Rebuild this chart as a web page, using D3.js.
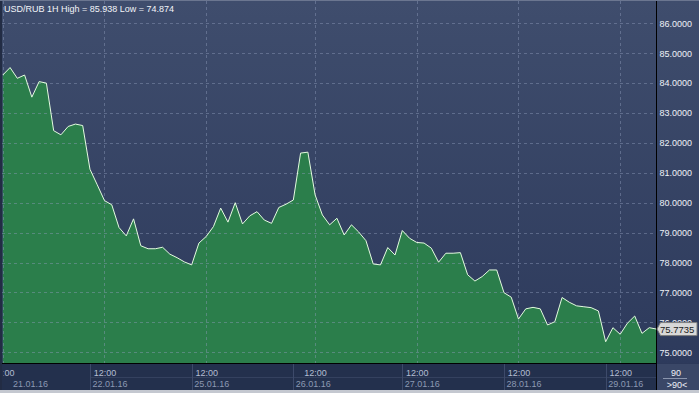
<!DOCTYPE html>
<html>
<head>
<meta charset="utf-8">
<script src="https://cdn.jsdelivr.net/npm/d3@7/dist/d3.min.js"></script>
<style>
  html, body { margin: 0; padding: 0; background: #2c3858; }
  svg { display: block; font-family: "Liberation Sans", Arial, sans-serif; }
</style>
</head>
<body>
<div id="chart"></div>
<script>
// hourly closes, bar 0 = 21.01 12:00, bar 90 = last bar on 29.01
var closes = [
  84.27, 84.52, 84.16, 84.27, 83.53, 84.05, 84.00, 82.41, 82.27, 82.55,
  82.63, 82.58, 81.12, 80.60, 80.07, 79.93, 79.17, 78.89, 79.46, 78.56,
  78.46, 78.46, 78.51, 78.28, 78.16, 78.02, 77.92, 78.65, 78.87, 79.20,
  79.82, 79.35, 80.00, 79.29, 79.56, 79.70, 79.42, 79.31, 79.84, 79.95,
  80.09, 81.66, 81.69, 80.26, 79.59, 79.26, 79.48, 78.92, 79.26, 79.02,
  78.73, 77.95, 77.92, 78.50, 78.25, 79.07, 78.81, 78.67, 78.65, 78.48,
  78.01, 78.31, 78.31, 78.33, 77.59, 77.38, 77.53, 77.75, 77.75, 76.99,
  76.84, 76.11, 76.45, 76.50, 76.45, 75.91, 76.02, 76.83, 76.67, 76.55,
  76.52, 76.49, 76.38, 75.35, 75.82, 75.60, 75.97, 76.21, 75.63, 75.82,
  75.7735
];
var priceTicks = [75, 76, 77, 78, 79, 80, 81, 82, 83, 84, 85, 86];
var tickBars = [0, 14, 28, 43, 57, 71, 85];
var tickTimes = ["12:00", "12:00", "12:00", "12:00", "12:00", "12:00", "12:00"];
var dayStartBars = [-2, 12, 26, 40, 55, 69, 83];
var dayLabels = ["21.01.16", "22.01.16", "25.01.16", "26.01.16", "27.01.16", "28.01.16", "29.01.16"];
var title = "USD/RUB 1H High = 85.938 Low = 74.874";
var lastPrice = "75.7735";
var barCount = "90";

var W = 699, H = 393;
var plotL = 2, plotR = 656.5, plotT = 1, plotB = 363.5, axisB = 390;

var svg = d3.select("#chart").append("svg")
  .attr("width", W)
  .attr("height", H);

var defs = svg.append("defs");
var grad = defs.append("linearGradient")
  .attr("id", "bg").attr("x1", 0).attr("y1", 0).attr("x2", 0).attr("y2", 1);
grad.append("stop").attr("offset", "0%").attr("stop-color", "#3f4d6d");
grad.append("stop").attr("offset", "100%").attr("stop-color", "#2d3a5c");
defs.append("clipPath").attr("id", "plotclip")
  .append("rect").attr("x", plotL).attr("y", plotT)
  .attr("width", plotR - plotL).attr("height", plotB - plotT);
// clip for the time row, in the axis group's own coordinates
defs.append("clipPath").attr("id", "xclip")
  .append("rect").attr("x", 3.5).attr("y", 0)
  .attr("width", plotR - 3.5).attr("height", 30);

var x = d3.scaleLinear().domain([0, 90]).range([2.8, 656.5]);
var y = d3.scaleLinear().domain([75, 86]).range([352.2, 23.3]);

// backgrounds
svg.append("rect").attr("width", W).attr("height", H).attr("fill", "#2c3858");
svg.append("rect").attr("x", 0).attr("y", 0).attr("width", W).attr("height", plotB)
  .attr("fill", "url(#bg)");

var plot = svg.append("g").attr("clip-path", "url(#plotclip)");

var area = d3.area()
  .x(function(d, i) { return x(i); })
  .y0(plotB)
  .y1(function(d) { return y(d); });

var line = d3.line()
  .x(function(d, i) { return x(i); })
  .y(function(d) { return y(d); });

plot.append("path")
  .datum(closes)
  .attr("d", area)
  .attr("fill", "#2b7e4b");

// grid
plot.selectAll(".hgrid").data(priceTicks).enter().append("line")
  .attr("x1", plotL).attr("x2", plotR)
  .attr("y1", function(d) { return Math.round(y(d)) + 0.5; })
  .attr("y2", function(d) { return Math.round(y(d)) + 0.5; })
  .attr("stroke", "#8d9bbb").attr("stroke-opacity", 0.45)
  .attr("stroke-dasharray", "3,3");

plot.selectAll(".vgrid").data(tickBars).enter().append("line")
  .attr("x1", function(d) { return Math.round(x(d)) + 0.5; })
  .attr("x2", function(d) { return Math.round(x(d)) + 0.5; })
  .attr("y1", plotT).attr("y2", plotB)
  .attr("stroke", "#8d9bbb").attr("stroke-opacity", 0.45)
  .attr("stroke-dasharray", "3,3");

plot.append("path")
  .datum(closes)
  .attr("d", line)
  .attr("fill", "none")
  .attr("stroke", "#e4fbe0")
  .attr("stroke-width", 1);

// x axis panel
svg.append("rect").attr("x", 0).attr("y", plotB).attr("width", plotR).attr("height", axisB - plotB)
  .attr("fill", "#23304d");
svg.append("line")
  .attr("x1", x(dayStartBars[1])).attr("x2", plotR)
  .attr("y1", 377.5).attr("y2", 377.5)
  .attr("stroke", "#34415f");
svg.selectAll(".sep").data(dayStartBars.slice(1)).enter().append("line")
  .attr("x1", function(d) { return Math.round(x(d)) + 0.5; })
  .attr("x2", function(d) { return Math.round(x(d)) + 0.5; })
  .attr("y1", plotB).attr("y2", axisB)
  .attr("stroke", "#3d4a6a");

var timeAxis = svg.append("g")
  .attr("transform", "translate(0," + plotB + ")")
  .attr("clip-path", "url(#xclip)")
  .call(d3.axisBottom(x).tickValues(tickBars).tickSize(0)
    .tickFormat(function(d, i) { return tickTimes[i]; }));
timeAxis.select(".domain").remove();
timeAxis.selectAll("text")
  .attr("y", 12.5).attr("dy", 0)
  .attr("font-size", 9).attr("font-family", "Liberation Sans, Arial, sans-serif")
  .attr("fill", "#b4bed2");

var dateAxis = svg.append("g")
  .attr("transform", "translate(0," + plotB + ")")
  .call(d3.axisBottom(x).tickValues(dayStartBars).tickSize(0)
    .tickFormat(function(d, i) { return dayLabels[i]; }));
dateAxis.select(".domain").remove();
dateAxis.selectAll(".tick").attr("transform", function(d) {
  return "translate(" + Math.max(x(d) + 2.5, 13) + ",0)";
});
dateAxis.selectAll("text")
  .attr("y", 23.5).attr("dy", 0)
  .attr("text-anchor", "start")
  .attr("font-size", 9).attr("font-family", "Liberation Sans, Arial, sans-serif")
  .attr("fill", "#8c99b3");

// frame lines
svg.append("line").attr("x1", plotR).attr("x2", plotR).attr("y1", 0).attr("y2", axisB)
  .attr("stroke", "#000");
svg.append("line").attr("x1", 0).attr("x2", plotR).attr("y1", plotB).attr("y2", plotB)
  .attr("stroke", "#000");

// y axis
var yAxis = svg.append("g")
  .attr("transform", "translate(" + plotR + ",0)")
  .call(d3.axisRight(y).tickValues(priceTicks).tickSize(0).tickPadding(3)
    .tickFormat(d3.format(".4f")));
yAxis.select(".domain").remove();
yAxis.selectAll("text")
  .attr("font-size", 9).attr("font-family", "Liberation Sans, Arial, sans-serif")
  .attr("fill", "#eef1f7");

// last price marker
var ly = y(+lastPrice);
svg.append("path")
  .attr("d", "M" + (plotR + 0.5) + "," + ly +
    "L" + (plotR + 4) + "," + (ly - 6.5) +
    "L697,"  + (ly - 6.5) + "L697," + (ly + 6.5) +
    "L" + (plotR + 4) + "," + (ly + 6.5) + "Z")
  .attr("fill", "#d8d8d8").attr("stroke", "#7d7d7d");
svg.append("text")
  .attr("x", plotR + 3.5).attr("y", ly + 3.5)
  .attr("font-size", 9.5).attr("fill", "#1a1a1a")
  .text(lastPrice);

// bar count cell
svg.append("rect").attr("x", plotR + 0.5).attr("y", plotB + 0.5).attr("width", W - plotR).attr("height", axisB - plotB - 0.5)
  .attr("fill", "#3a4767");
svg.append("line").attr("x1", 663).attr("x2", 687).attr("y1", 378.5).attr("y2", 378.5)
  .attr("stroke", "#8a95ad");
svg.append("text").attr("x", 676).attr("y", 375.5).attr("text-anchor", "middle")
  .attr("font-size", 9).attr("fill", "#eef1f7").text(barCount);
svg.append("text").attr("x", 677).attr("y", 387.5).attr("text-anchor", "middle")
  .attr("font-size", 9).attr("fill", "#eef1f7").text(">" + barCount + "<");

// title
svg.append("text").attr("x", 4).attr("y", 11.5)
  .attr("font-size", 9).attr("fill", "#f2f4f8")
  .text(title);

// outer border
svg.append("rect").attr("x", 0).attr("y", 0).attr("width", 2).attr("height", axisB).attr("fill", "#222c44");
svg.append("rect").attr("x", 0).attr("y", 0).attr("width", W).attr("height", 1).attr("fill", "#6b7690");
svg.append("rect").attr("x", 0).attr("y", axisB).attr("width", W).attr("height", H - axisB).attr("fill", "#c4c8d0");
</script>
</body>
</html>
